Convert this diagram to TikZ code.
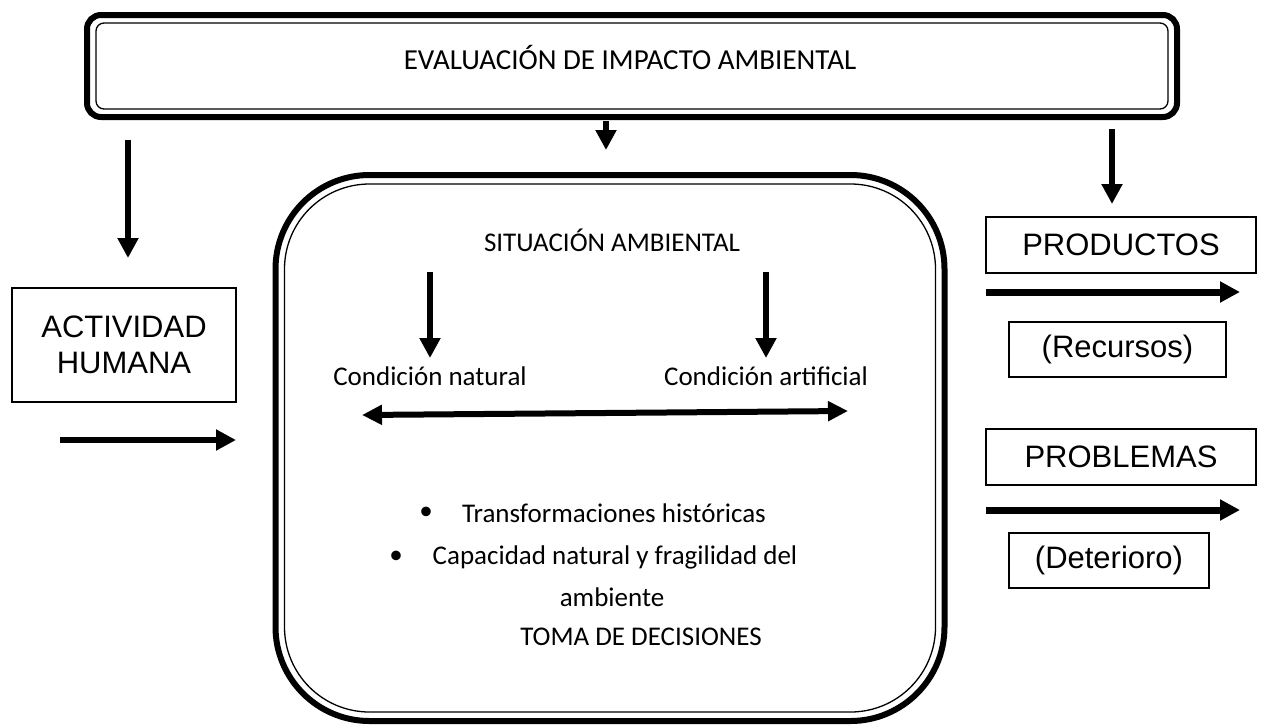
\documentclass[tikz,border=0pt]{standalone}
\usepackage{fontspec}
\setmainfont{Carlito}
\newfontfamily\arialfont{Liberation Sans}
\usetikzlibrary{arrows.meta,positioning}

\begin{document}
\begin{tikzpicture}[x=1pt,y=-1pt,
		marco/.style={draw,line width=6pt,inner sep=0pt,outer sep=0pt},
		linea/.style={draw,line width=1.3pt},
		caja/.style={draw,line width=1.2pt,inner sep=0pt,outer sep=0pt,align=center,
			font=\arialfont\fontsize{31}{36}\selectfont},
		texto/.style={inner sep=0pt,font=\fontsize{27}{32}\selectfont},
		flecha/.style={line width=6pt,-{Triangle[length=20pt,width=20pt]}},
		doble/.style={line width=6pt,{Triangle[length=20pt,width=19pt]}-{Triangle[length=20pt,width=19pt]}}]
	\useasboundingbox (0,0) rectangle (1264,726);
	% marco superior
	\node[marco,minimum width=1090pt,minimum height=102pt,rounded corners=14pt] (eia) at (632,66) {};
	\draw[linea,rounded corners=8pt] ([shift={(9,8)}]eia.north west) rectangle ([shift={(-9,-8)}]eia.south east);
	\node[texto,font=\fontsize{29}{34}\selectfont] (titulo) at (630,57) {EVALUACIÓN DE IMPACTO AMBIENTAL};
	% situacion ambiental
	\node[marco,minimum width=669pt,minimum height=546pt,rounded corners=94pt] (sit) at (610,448) {};
	\draw[linea,rounded corners=85pt] ([shift={(9,9)}]sit.north west) rectangle ([shift={(-9,-9)}]sit.south east);
	\node[texto] (situacion) at (612,240) {SITUACIÓN AMBIENTAL};
	\node[texto] (natural) at (430,376) {Condición natural};
	\node[texto] (artificial) at (766,376) {Condición artificial};
	\node[texto] (item1) at (614,513) {Transformaciones históricas};
	\node[texto] (item2) at (615,557) {Capacidad natural y fragilidad del};
	\node[texto] (item3) at (612,597) {ambiente};
	\node[texto] (toma) at (641,637) {TOMA DE DECISIONES};
	\node[texto] (pto1) at (426,513) {•};
	\node[texto] (pto2) at (396,557) {•};
	% cajas laterales
	\node[caja,minimum width=224pt,minimum height=114pt] (actividad) at (124,345) {ACTIVIDAD\\HUMANA};
	\node[caja,minimum width=270pt,minimum height=56pt] (productos) at (1121,245) {PRODUCTOS};
	\node[caja,minimum width=217pt,minimum height=55pt] (recursos) at (1117.5,349.5) {(Recursos)};
	\node[caja,minimum width=270pt,minimum height=56pt] (problemas) at (1121,457) {PROBLEMAS};
	\node[caja,minimum width=200pt,minimum height=55pt] (deterioro) at (1109,560.5) {(Deterioro)};
	% flechas
	\coordinate (izq-a) at (128,140);  \coordinate (izq-b) at (128,258);
	\coordinate (cen-a) at (606,121);  \coordinate (cen-b) at (606,150);
	\coordinate (der-a) at (1112,129); \coordinate (der-b) at (1112,204);
	\coordinate (act-a) at (60,440);   \coordinate (act-b) at (236,440);
	\coordinate (nat-a) at (430,272);  \coordinate (nat-b) at (430,358);
	\coordinate (art-a) at (766,272);  \coordinate (art-b) at (766,358);
	\coordinate (pro-a) at (986,292);  \coordinate (pro-b) at (1240,292);
	\coordinate (prb-a) at (986,510);  \coordinate (prb-b) at (1240,510);
	\coordinate (rel-a) at (362,415);  \coordinate (rel-b) at (848,411);
	\path[flecha]
		(izq-a) edge (izq-b)
		(cen-a) edge (cen-b)
		(der-a) edge (der-b)
		(act-a) edge (act-b)
		(nat-a) edge (nat-b)
		(art-a) edge (art-b);
	\path[flecha,line width=7pt]
		(pro-a) edge (pro-b)
		(prb-a) edge (prb-b);
	\path[doble] (rel-a) edge (rel-b);
\end{tikzpicture}
\end{document}
